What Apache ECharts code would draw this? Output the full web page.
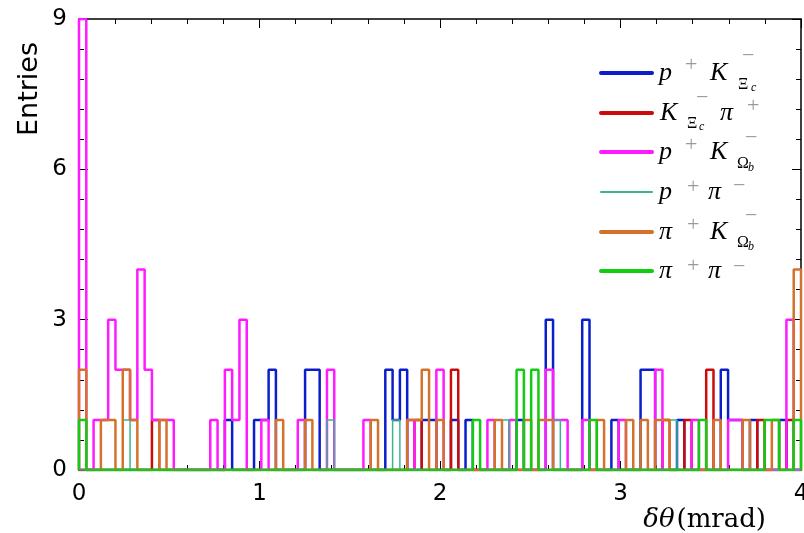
<!DOCTYPE html>
<html>
<head>
<meta charset="utf-8">
<script src="https://cdn.jsdelivr.net/npm/echarts@6/dist/echarts.min.js"></script>
<style>
  html, body { margin: 0; padding: 0; background: #fff; }
  #chart { width: 804px; height: 533px; }
</style>
</head>
<body>
<div id="chart"></div>
<script>
// histogram: 99 bins over 0..4 mrad
const xMin = 0
const xMax = 4
const yTicks = [0, 3, 6, 9]
const xTicks = [0, 1, 2, 3, 4]

const pKXic = [
  0, 0, 0, 0, 0, 0, 0, 0, 0, 0,
  0, 0, 0, 0, 0, 0, 0, 0, 0, 0,
  1, 0, 0, 0, 1, 1, 2, 0, 0, 0,
  0, 2, 2, 0, 0, 0, 0, 0, 0, 0,
  0, 0, 2, 1, 2, 0, 0, 1, 1, 0,
  0, 1, 0, 1, 0, 0, 0, 0, 0, 0,
  1, 0, 0, 0, 3, 0, 0, 0, 0, 3,
  0, 0, 0, 1, 0, 0, 0, 2, 2, 0,
  0, 0, 1, 0, 0, 0, 0, 0, 2, 1,
  1, 0, 1, 0, 0, 0, 1, 0, 0
]
const KXicPi = [
  0, 0, 0, 0, 0, 0, 0, 0, 0, 0,
  1, 0, 0, 0, 0, 0, 0, 0, 0, 0,
  0, 0, 0, 0, 0, 0, 0, 0, 0, 0,
  0, 0, 0, 0, 0, 0, 0, 0, 0, 0,
  0, 0, 0, 0, 0, 0, 1, 0, 0, 0,
  0, 2, 0, 0, 0, 0, 0, 0, 0, 0,
  0, 0, 0, 0, 0, 0, 0, 0, 0, 0,
  0, 0, 0, 0, 0, 0, 0, 0, 0, 0,
  1, 0, 0, 1, 0, 0, 2, 0, 0, 0,
  0, 0, 0, 1, 0, 0, 0, 1, 0
]
const pKOmb = [
  9, 0, 1, 1, 3, 2, 2, 1, 4, 2,
  1, 1, 1, 0, 0, 0, 0, 0, 1, 0,
  2, 1, 3, 0, 0, 1, 0, 0, 0, 0,
  1, 0, 0, 0, 2, 0, 0, 0, 0, 1,
  0, 0, 0, 0, 0, 1, 0, 0, 0, 2,
  0, 0, 0, 0, 0, 0, 1, 0, 0, 1,
  0, 0, 0, 0, 2, 1, 1, 0, 0, 1,
  0, 0, 0, 0, 1, 0, 0, 0, 0, 2,
  0, 0, 0, 0, 1, 0, 0, 0, 0, 1,
  1, 0, 0, 0, 0, 0, 0, 3, 0
]
const pPi = [
  0, 0, 0, 0, 0, 0, 1, 0, 0, 0,
  0, 0, 0, 0, 0, 0, 0, 0, 0, 0,
  0, 0, 0, 0, 0, 0, 0, 0, 0, 0,
  0, 0, 0, 0, 1, 0, 0, 0, 0, 0,
  0, 0, 0, 1, 0, 0, 0, 0, 0, 0,
  0, 0, 0, 0, 0, 0, 0, 0, 1, 0,
  0, 0, 0, 0, 0, 1, 0, 0, 0, 0,
  0, 0, 0, 0, 0, 0, 0, 0, 0, 0,
  0, 1, 0, 0, 0, 0, 0, 0, 0, 0,
  0, 0, 0, 0, 0, 0, 0, 0, 0
]
const piKOmb = [
  2, 0, 0, 1, 1, 0, 2, 1, 0, 0,
  0, 1, 0, 0, 0, 0, 0, 0, 0, 0,
  0, 0, 0, 0, 0, 0, 0, 1, 0, 0,
  0, 1, 0, 0, 0, 0, 0, 0, 0, 0,
  1, 0, 0, 0, 0, 1, 1, 2, 0, 1,
  0, 0, 0, 0, 0, 0, 0, 1, 0, 0,
  0, 1, 0, 1, 1, 0, 0, 0, 0, 0,
  0, 1, 0, 0, 0, 1, 0, 1, 0, 1,
  1, 0, 0, 0, 0, 0, 0, 1, 0, 0,
  0, 1, 0, 0, 0, 1, 0, 0, 4
]
const piPi = [
  1, 0, 0, 0, 0, 0, 0, 0, 0, 0,
  0, 0, 0, 0, 0, 0, 0, 0, 0, 0,
  0, 0, 0, 0, 0, 0, 0, 0, 0, 0,
  0, 0, 0, 0, 0, 0, 0, 0, 0, 0,
  0, 0, 0, 0, 0, 0, 0, 0, 0, 0,
  0, 0, 0, 0, 1, 0, 0, 0, 0, 0,
  2, 0, 2, 0, 0, 0, 0, 0, 0, 0,
  1, 0, 0, 0, 0, 0, 0, 0, 0, 0,
  0, 0, 0, 0, 0, 1, 0, 0, 0, 0,
  0, 0, 0, 0, 1, 1, 0, 0, 1
]

const blue = '#0a1ecc'
const red = '#cc0a0a'
const magenta = '#ff1aff'
const teal = '#3cb493'
const orange = '#d4722c'
const green = '#12cc12'

const binWidth = (xMax - xMin) / pKXic.length

// bin contents -> outline points (left edge of each bin), drawn with step 'end'
const toSteps = (counts) => {
  const pts = [[xMin, 0]]
  counts.forEach((c, i) => pts.push([xMin + i * binWidth, c]))
  pts.push([xMax, 0])
  return pts
}

const histSeries = (name, counts, color, width) => ({
  name,
  type: 'line',
  step: 'end',
  data: toSteps(counts),
  showSymbol: false,
  symbol: 'none',
  clip: true,
  lineStyle: { color, width },
  emphasis: { disabled: true },
  animation: false
})

const serif = '"Liberation Serif", "DejaVu Serif", serif'
const dvSerif = '"DejaVu Serif", serif'
const sans = '"DejaVu Sans", sans-serif'

// legend text: pieces [text, x, dy, kind]
const styles = {
  main: { font: 'italic 26px ' + serif, fill: '#000' },
  sup: { font: '22px ' + serif, fill: '#9a9a9a' },
  sub: { font: '16px ' + serif, fill: '#000' },
  subsub: { font: 'italic 12px ' + serif, fill: '#000' }
}
const legendRows = [
  { y: 73, color: blue, w: 4, parts: [['p', 659, 0, 'main'], ['+', 685, -8, 'sup'], ['K', 710, 0, 'main'], ['\u2212', 742, -17, 'sup'], ['\u039E', 738, 12, 'sub'], ['c', 751, 15, 'subsub']] },
  { y: 113, color: red, w: 4, parts: [['K', 660, 0, 'main'], ['\u2212', 696, -15, 'sup'], ['\u039E', 687, 11, 'sub'], ['c', 699, 14, 'subsub'], ['\u03C0', 720, 0, 'main'], ['+', 747, -7, 'sup']] },
  { y: 152, color: magenta, w: 4, parts: [['p', 659, 0, 'main'], ['+', 685, -7, 'sup'], ['K', 710, 0, 'main'], ['\u2212', 745, -14, 'sup'], ['\u03A9', 737, 12, 'sub'], ['b', 748, 16, 'subsub']] },
  { y: 192, color: teal, w: 2, parts: [['p', 659, 0, 'main'], ['+', 687, -5, 'sup'], ['\u03C0', 708, 0, 'main'], ['\u2212', 733, -6, 'sup']] },
  { y: 232, color: orange, w: 4, parts: [['\u03C0', 659, 0, 'main'], ['+', 687, -7, 'sup'], ['K', 710, 0, 'main'], ['\u2212', 745, -16, 'sup'], ['\u03A9', 737, 11, 'sub'], ['b', 748, 15, 'subsub']] },
  { y: 271, color: green, w: 4, parts: [['\u03C0', 659, 0, 'main'], ['+', 687, -5, 'sup'], ['\u03C0', 708, 0, 'main'], ['\u2212', 733, -4, 'sup']] }
]

const legendGraphics = []
legendRows.forEach((row) => {
  legendGraphics.push({
    type: 'line',
    shape: { x1: 601, y1: row.y, x2: 652, y2: row.y },
    style: { stroke: row.color, lineWidth: row.w, lineCap: 'round' },
    silent: true
  })
  row.parts.forEach(([t, x, dy, kind]) => {
    legendGraphics.push({
      type: 'text',
      x, y: row.y + dy,
      style: Object.assign({ text: t, align: 'left', verticalAlign: 'middle' }, styles[kind]),
      silent: true
    })
  })
})

const chart = echarts.init(document.getElementById('chart'))

const axisBase = {
  axisLine: { show: true, onZero: false, lineStyle: { color: '#000', width: 1.5 } },
  axisTick: { show: true, inside: true, length: 9, lineStyle: { color: '#000', width: 1 } },
  minorTick: { show: true, splitNumber: 5, length: 5, lineStyle: { color: '#000', width: 1 } },
  splitLine: { show: false },
  minorSplitLine: { show: false }
}

const option = {
  backgroundColor: '#fff',
  animation: false,
  grid: { left: 79, right: 3, top: 19, bottom: 63, containLabel: false, outerBoundsMode: 'none' },
  xAxis: [
    Object.assign({}, axisBase, {
      type: 'value', min: xMin, max: xMax, interval: 1, position: 'bottom',
      axisLabel: {
        color: '#000', fontSize: 23, fontFamily: sans, margin: 13,
        formatter: (v) => (xTicks.includes(v) ? String(v) : '')
      }
    }),
    Object.assign({}, axisBase, {
      type: 'value', min: xMin, max: xMax, interval: 1, position: 'top',
      axisLabel: { show: false }
    })
  ],
  yAxis: [
    Object.assign({}, axisBase, {
      type: 'value', min: 0, max: 9, interval: 3, position: 'left',
      axisLabel: {
        color: '#000', fontSize: 23, fontFamily: sans, margin: 12,
        formatter: (v) => (yTicks.includes(v) ? String(v) : '')
      }
    }),
    Object.assign({}, axisBase, {
      type: 'value', min: 0, max: 9, interval: 3, position: 'right',
      axisLabel: { show: false }
    })
  ],
  series: [
    histSeries('pKXic', pKXic, blue, 2.5),
    histSeries('KXicPi', KXicPi, red, 2.5),
    histSeries('pKOmb', pKOmb, magenta, 2.5),
    histSeries('pPi', pPi, teal, 1.5),
    histSeries('piKOmb', piKOmb, orange, 2.5),
    histSeries('piPi', piPi, green, 2.5)
  ],
  graphic: [
    {
      type: 'text', x: 30, y: 89, rotation: Math.PI / 2,
      style: { text: 'Entries', font: '27px ' + sans, fill: '#000', align: 'center', verticalAlign: 'middle' },
      silent: true
    },
    {
      type: 'text', x: 766, y: 520,
      style: {
        text: '{it|\u03B4\u03B8}{gap| }{rm|(mrad)}', align: 'right', verticalAlign: 'middle',
        rich: {
          it: { font: 'italic 26px ' + dvSerif, fill: '#000' },
          gap: { font: '6px ' + dvSerif, fill: '#000' },
          rm: { font: '26px ' + dvSerif, fill: '#000' }
        }
      },
      silent: true
    }
  ].concat(legendGraphics)
}

chart.setOption(option)
</script>
</body>
</html>
